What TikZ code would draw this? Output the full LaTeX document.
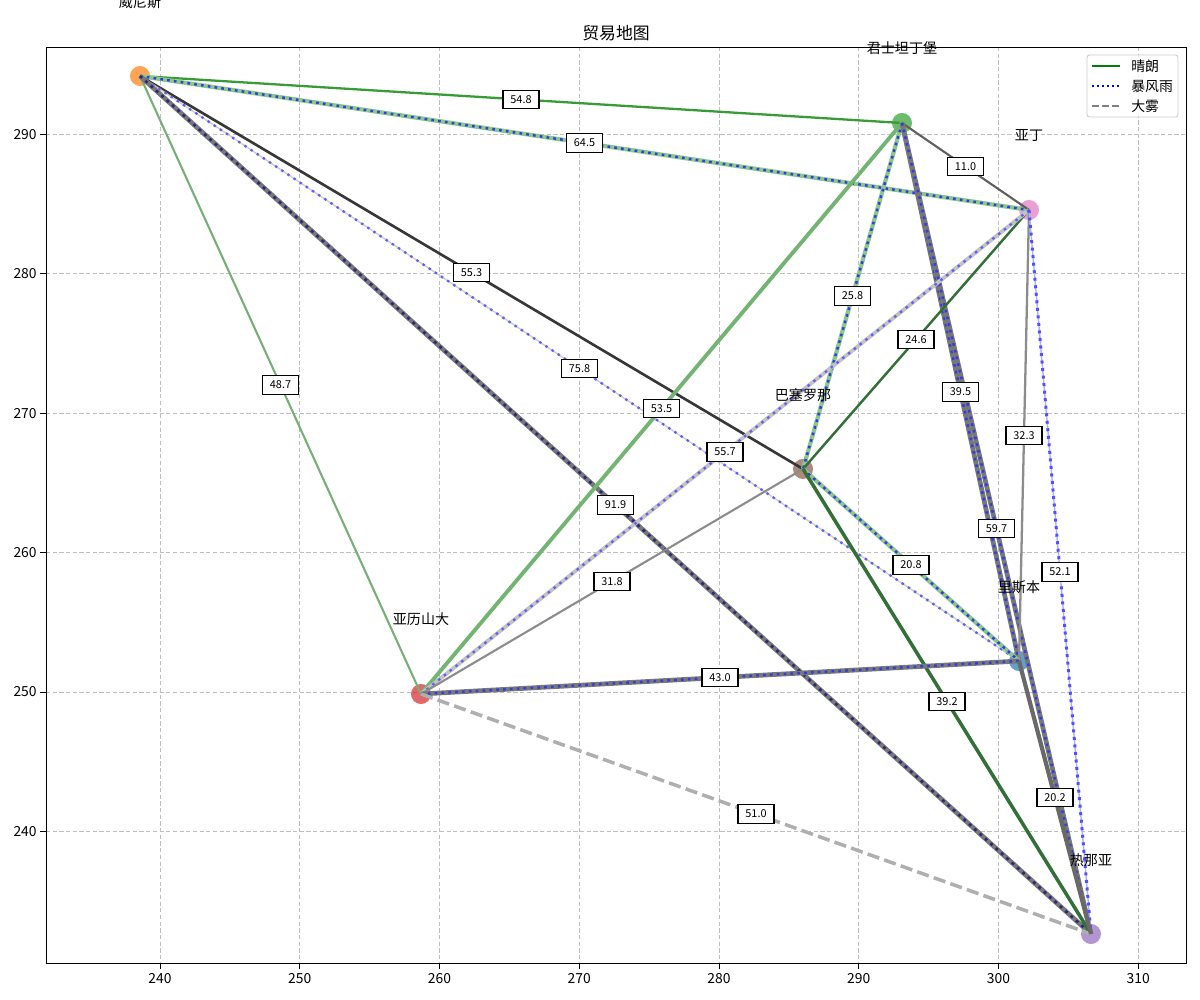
\documentclass[tikz,border=0pt]{standalone}
\usepackage{fontspec}
\setmainfont{Noto Sans CJK SC}
\definecolor{cgrid}{RGB}{190,190,190}
\definecolor{cdotB}{RGB}{50,60,225}
\definecolor{cdotN}{RGB}{40,40,125}
\definecolor{cdotL}{RGB}{95,95,245}
\definecolor{cgband}{RGB}{140,200,140}
\definecolor{ckband}{RGB}{120,120,120}
\definecolor{clband}{RGB}{195,195,195}
\definecolor{cthin}{RGB}{205,205,205}
\definecolor{cvc}{RGB}{55,155,55}
\definecolor{cva}{RGB}{120,175,120}
\definecolor{cvb}{RGB}{55,55,55}
\definecolor{cca}{RGB}{95,95,95}
\definecolor{ccal}{RGB}{115,180,115}
\definecolor{cdkg}{RGB}{50,112,55}
\definecolor{cmg}{RGB}{140,140,140}
\definecolor{cpb}{RGB}{175,175,255}
\definecolor{cbd}{RGB}{80,80,255}
\definecolor{cagd}{RGB}{175,175,175}
\definecolor{clg}{RGB}{105,105,105}
\definecolor{corange}{RGB}{255,127,14}
\definecolor{cgreen}{RGB}{44,160,44}
\definecolor{cpink}{RGB}{227,119,194}
\definecolor{cbrown}{RGB}{140,86,75}
\definecolor{cblue}{RGB}{31,119,180}
\definecolor{cred}{RGB}{214,39,40}
\definecolor{cpurple}{RGB}{148,103,189}
\definecolor{clegbox}{RGB}{204,204,204}
\definecolor{clegg}{RGB}{0,128,0}
\definecolor{clegb}{RGB}{0,0,255}
\definecolor{clegk}{RGB}{128,128,128}
\begin{document}
\begin{tikzpicture}[x=0.02cm,y=-0.02cm,
  city/.style={circle,minimum size=11.4pt,inner sep=0pt,fill opacity=0.7,draw=none},
  clab/.style={font=\fontsize{8}{9}\selectfont,inner sep=0pt},
  elab/.style={draw=black,line width=0.6pt,fill=white,inner sep=0pt,minimum width=20.5pt,minimum height=10.5pt,font=\fontsize{6.2}{7}\selectfont},
  gridl/.style={draw=cgrid,line width=0.45pt,dash pattern=on 2.4pt off 1.4pt},
  tick/.style={font=\fontsize{7.9}{9}\selectfont,inner sep=0pt},
  dotsB/.style={draw=cdotB,line width=1.4pt,dash pattern=on 1.5pt off 2.4pt},
  dotsN/.style={draw=cdotN,line width=1.5pt,dash pattern=on 1.6pt off 2.5pt},
  dotsL/.style={draw=cdotL,line width=1.3pt,dash pattern=on 1.4pt off 2.8pt},
  gband/.style={draw=cgband,line width=2.4pt},
  kband/.style={draw=ckband,line width=2.7pt},
  lband/.style={draw=clband,line width=2.2pt},
  thinl/.style={draw=cthin,line width=0.8pt}
]
\useasboundingbox (0,0) rectangle (1200,1000);
\clip (0,0) rectangle (1200,1000);
% grid
\foreach \gx in {160,299.75,439.5,579.25,719,858.75,998.5,1138.25}
  \draw[gridl] (\gx,47) -- (\gx,963);
\foreach \gy in {831.4,692,552.6,413.2,273.8,134.4}
  \draw[gridl] (46,\gy) -- (1186,\gy);
% ticks
\foreach \gx/\lab in {160/240,299.75/250,439.5/260,579.25/270,719/280,858.75/290,998.5/300,1138.25/310}{
  \draw[line width=0.45pt] (\gx,963) -- (\gx,969);
  \node[tick] at (\gx,979) {\lab};}
\foreach \gy/\lab in {831.4/240,692/250,552.6/260,413.2/270,273.8/280,134.4/290}{
  \draw[line width=0.45pt] (46,\gy) -- (40,\gy);
  \node[tick,anchor=east] at (37,\gy) {\lab};}
% title
\node[font=\fontsize{9.6}{11}\selectfont,inner sep=0pt] (title) at (616,33) {贸易地图};
% cities
\node[city,fill=corange] (ven) at (140,76) {};
\node[city,fill=cgreen] (con) at (902,123) {};
\node[city,fill=cpink] (ade) at (1029,210) {};
\node[city,fill=cbrown] (bar) at (803,469) {};
\node[city,fill=cblue] (lis) at (1019,661) {};
\node[city,fill=cred] (ale) at (421,694) {};
\node[city,fill=cpurple] (gen) at (1091,934) {};
% edges
\draw[draw=cvc,line width=1.3pt] (ven.center) -- (con.center);
\draw[gband] (ven.center) -- (ade.center); \draw[dotsB] (ven.center) -- (ade.center);
\draw[draw=cva,line width=1.2pt] (ven.center) -- (ale.center);
\draw[draw=cvb,line width=1.5pt] (ven.center) -- (bar.center);
\draw[thinl] (ven.center) -- (lis.center); \draw[dotsL] (ven.center) -- (lis.center);
\draw[kband] (ven.center) -- (gen.center); \draw[dotsN] (ven.center) -- (gen.center);
\draw[draw=cca,line width=1.2pt] (con.center) -- (ade.center);
\draw[gband] (con.center) -- (bar.center); \draw[dotsB] (con.center) -- (bar.center);
\draw[draw=ccal,line width=2.2pt] (con.center) -- (ale.center);
\draw[kband] (con.center) -- (lis.center); \draw[dotsB] (con.center) -- (lis.center);
\draw[kband] (con.center) -- (gen.center); \draw[dotsB] (con.center) -- (gen.center);
\draw[draw=cdkg,line width=1.4pt] (ade.center) -- (bar.center);
\draw[lband] (ade.center) -- (ale.center); \draw[dotsL] (ade.center) -- (ale.center);
\draw[draw=cmg,line width=1.3pt] (ade.center) -- (lis.center);
\draw[draw=cpb,line width=0.8pt] (ade.center) -- (gen.center);
\draw[draw=cbd,line width=1.7pt,dash pattern=on 1.7pt off 2.6pt] (ade.center) -- (gen.center);
\draw[gband] (bar.center) -- (lis.center); \draw[dotsB] (bar.center) -- (lis.center);
\draw[draw=cmg,line width=1.2pt] (bar.center) -- (ale.center);
\draw[draw=cdkg,line width=2pt] (bar.center) -- (gen.center);
\draw[kband] (ale.center) -- (lis.center); \draw[dotsB] (ale.center) -- (lis.center);
\draw[draw=cagd,line width=2pt,dash pattern=on 7pt off 3pt] (ale.center) -- (gen.center);
\draw[draw=clg,line width=2.4pt] (lis.center) -- (gen.center);
% edge labels
\path (ven.center) -- (con.center) node[elab,midway] (l1) {54.8};
\path (ven.center) -- (ade.center) node[elab,midway] (l2) {64.5};
\path (ven.center) -- (ale.center) node[elab,midway] (l3) {48.7};
\path (ven.center) -- (bar.center) node[elab,midway] (l4) {55.3};
\path (ven.center) -- (lis.center) node[elab,midway] (l5) {75.8};
\path (ven.center) -- (gen.center) node[elab,midway] (l6) {91.9};
\path (con.center) -- (ade.center) node[elab,midway] (l7) {11.0};
\path (con.center) -- (bar.center) node[elab,midway] (l8) {25.8};
\path (con.center) -- (ale.center) node[elab,midway] (l9) {53.5};
\path (con.center) -- (lis.center) node[elab,midway] (l10) {39.5};
\path (con.center) -- (gen.center) node[elab,midway] (l11) {59.7};
\path (ade.center) -- (bar.center) node[elab,midway] (l12) {24.6};
\path (ade.center) -- (ale.center) node[elab,midway] (l13) {55.7};
\path (ade.center) -- (lis.center) node[elab,midway] (l14) {32.3};
\path (ade.center) -- (gen.center) node[elab,midway] (l15) {52.1};
\path (bar.center) -- (lis.center) node[elab,midway] (l16) {20.8};
\path (bar.center) -- (ale.center) node[elab,midway] (l17) {31.8};
\path (bar.center) -- (gen.center) node[elab,midway] (l18) {39.2};
\path (ale.center) -- (lis.center) node[elab,midway] (l19) {43.0};
\path (ale.center) -- (gen.center) node[elab,midway] (l20) {51.0};
\path (lis.center) -- (gen.center) node[elab,midway] (l21) {20.2};
% city labels
\node[clab] (tven) at (140,2) {威尼斯};
\node[clab] (tcon) at (902,48) {君士坦丁堡};
\node[clab] (tade) at (1029,136) {亚丁};
\node[clab] (tbar) at (803,395) {巴塞罗那};
\node[clab] (tlis) at (1019,587) {里斯本};
\node[clab] (tale) at (421,619) {亚历山大};
\node[clab] (tgen) at (1091,860) {热那亚};
% axes frame
\draw[line width=0.5pt] (46,47) rectangle (1186,963);
% legend
\draw[draw=clegbox,fill=white,fill opacity=0.8,line width=0.5pt,rounded corners=1.5pt] (1087,55) rectangle (1178,117);
\coordinate (k1a) at (1092,66); \coordinate (k1b) at (1120,66);
\coordinate (k2a) at (1092,86); \coordinate (k2b) at (1120,86);
\coordinate (k3a) at (1092,106); \coordinate (k3b) at (1120,106);
\draw[draw=clegg,line width=1.1pt] (k1a) -- (k1b);
\draw[draw=clegb,line width=1.1pt,dash pattern=on 1.1pt off 1.8pt] (k2a) -- (k2b);
\draw[draw=clegk,line width=1.1pt,dash pattern=on 4pt off 1.7pt] (k3a) -- (k3b);
\node[tick,anchor=west] (g1) at (1131,66) {晴朗};
\node[tick,anchor=west] (g2) at (1131,86) {暴风雨};
\node[tick,anchor=west] (g3) at (1131,106) {大雾};
\end{tikzpicture}
\end{document}
